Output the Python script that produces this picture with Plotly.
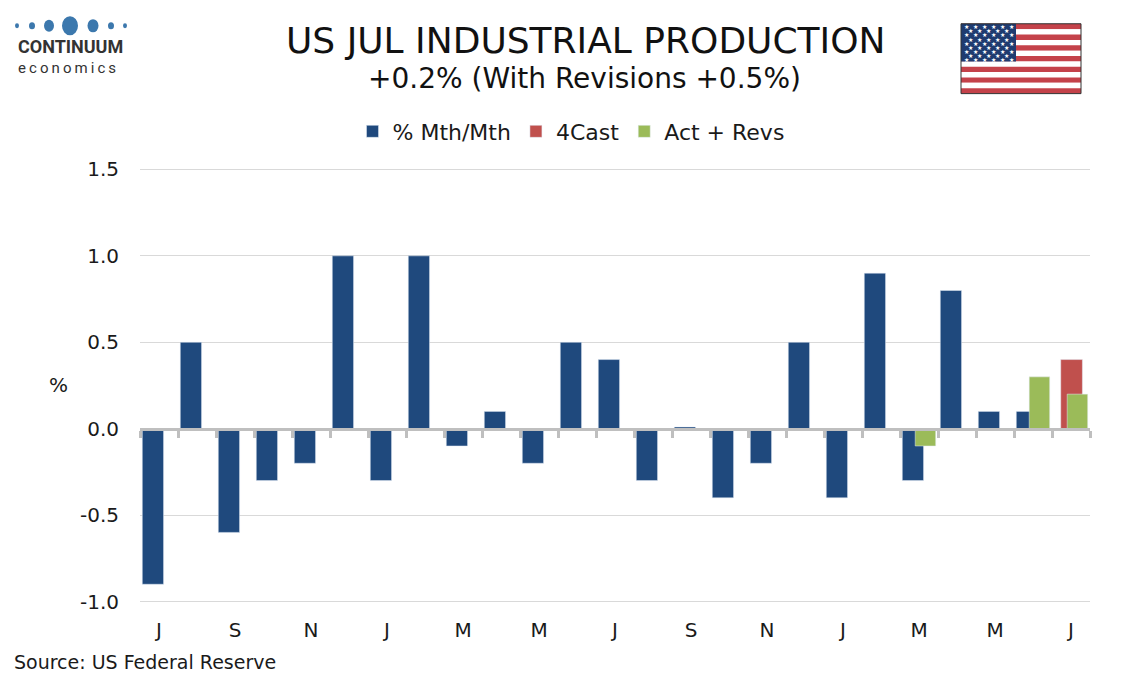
import plotly.graph_objects as go

# monthly % change, Jul 2023 .. Jul 2025
months = ["Jul 23", "Aug 23", "Sep 23", "Oct 23", "Nov 23", "Dec 23",
          "Jan 24", "Feb 24", "Mar 24", "Apr 24", "May 24", "Jun 24",
          "Jul 24", "Aug 24", "Sep 24", "Oct 24", "Nov 24", "Dec 24",
          "Jan 25", "Feb 25", "Mar 25", "Apr 25", "May 25", "Jun 25", "Jul 25"]
mth_mth = [-0.9, 0.5, -0.6, -0.3, -0.2, 1.0, -0.3, 1.0, -0.1, 0.1, -0.2, 0.5,
           0.4, -0.3, 0.01, -0.4, -0.2, 0.5, -0.4, 0.9, -0.3, 0.8, 0.1, 0.1, None]
forecast = [None] * 24 + [0.4]
act_revs = [None] * 20 + [-0.1, None, None, 0.3, 0.2]

x_labels = ["J", "S", "N", "J", "M", "M", "J", "S", "N", "J", "M", "M", "J"]
y_ticks = [-1.0, -0.5, 0.0, 0.5, 1.0, 1.5]
y_text = ["-1.0", "-0.5", "0.0", "0.5", "1.0", "1.5"]

W, H = 1134, 680
OFF = 8  # page body margin
PAD = 0.02  # small y padding so the edge gridlines show
unit = (602 - 169) / 2.5
L, R = 140 - OFF, 44 + OFF
T = 169 - PAD * unit - OFF
B = H - (602 + PAD * unit) + OFF
FONT = "Verdana, DejaVu Sans, sans-serif"
BLUE, RED, GREEN = "#1F497D", "#C0504D", "#9BBB59"

def px(x):
    return (x - OFF - L) / (W - L - R)

def py(y):
    return (H - B - (y - OFF)) / (H - T - B)

idx = list(range(len(months)))
yr = [-1.0 - PAD, 1.5 + PAD]
rng = [-0.5, len(months) - 0.5]

fig = go.Figure()
fig.add_trace(go.Bar(x=idx, y=mth_mth, name="% Mth/Mth", marker_color=BLUE,
                     offset=-0.44, width=0.56, hovertext=months))
fig.add_trace(go.Bar(x=idx, y=forecast, name="4Cast", marker_color=RED,
                     offset=-0.27, width=0.57, hovertext=months))
fig.add_trace(go.Bar(x=idx, y=act_revs, name="Act + Revs", marker_color=GREEN,
                     offset=-0.1, width=0.54, hovertext=months))
# empty trace so the zero-line axis gets drawn
fig.add_trace(go.Scatter(x=idx, y=[None] * len(idx), xaxis="x2", showlegend=False,
                         hoverinfo="skip"))

fig.update_layout(
    width=W, height=H,
    margin=dict(l=L, r=R, t=T, b=B),
    plot_bgcolor="white", paper_bgcolor="white",
    barmode="overlay",
    font=dict(family=FONT, size=20, color="#1a1a1a"),
    legend=dict(orientation="h", x=px(571), xanchor="center", y=py(131), yanchor="middle",
                font=dict(size=22), traceorder="normal"),
    xaxis=dict(range=rng, tickvals=idx[::2], ticktext=x_labels, showgrid=False,
               zeroline=False, showline=False, ticks="", ticklabelstandoff=11),
    xaxis2=dict(range=rng, overlaying="x", anchor="free", position=-yr[0] / (yr[1] - yr[0]),
                side="bottom", tickvals=[i - 0.5 for i in idx] + [rng[1]], ticks="outside",
                ticklen=7, tickwidth=3, tickcolor="#BFBFBF", showline=True, linewidth=3,
                linecolor="#BFBFBF", showticklabels=False, showgrid=False, zeroline=False),
    yaxis=dict(range=yr, tickvals=y_ticks, ticktext=y_text, showgrid=True,
               gridcolor="#D9D9D9", gridwidth=1, zeroline=False, ticklabelstandoff=20),
    showlegend=True,
)

ann = [
    dict(text="US JUL INDUSTRIAL PRODUCTION", x=px(585), y=py(40), font=dict(size=36, color="#111")),
    dict(text="+0.2% (With Revisions +0.5%)", x=px(584), y=py(78), font=dict(size=28, color="#111")),
    dict(text="%", x=px(58), y=py(385), font=dict(size=20)),
    dict(text="Source: US Federal Reserve", x=px(12), y=py(663), xanchor="left", font=dict(size=19)),
    dict(text="<b>CONTINUUM</b>", x=px(16), y=py(46), xanchor="left",
         font=dict(family="Roboto", size=18, color="#333333")),
    dict(text="\u2009".join("economics"), x=px(16), y=py(67), xanchor="left",
         font=dict(family="Roboto", size=15, color="#333333")),
]
for a in ann:
    a.setdefault("xanchor", "center")
    fig.add_annotation(xref="paper", yref="paper", yanchor="middle", showarrow=False, **a)

# logo dots
for cx, d in zip([17, 32, 49, 70, 93, 111, 125], [4, 6, 10, 16, 11, 6, 4]):
    fig.add_shape(type="circle", xref="paper", yref="paper", line_width=0,
                  fillcolor="#3C78AD", x0=px(cx - d / 2), x1=px(cx + d / 2),
                  y0=py(25 + d * 0.6), y1=py(25 - d * 0.6))

# flag
fx0, fx1, fy0, fy1 = 961, 1081, 23, 93
sh = (fy1 - fy0) / 13
for i in range(13):
    fig.add_shape(type="rect", xref="paper", yref="paper", line_width=0,
                  fillcolor="#C4424A" if i % 2 == 0 else "white",
                  x0=px(fx0), x1=px(fx1), y0=py(fy0 + i * sh), y1=py(fy0 + (i + 1) * sh))
fig.add_shape(type="rect", xref="paper", yref="paper", line_width=0, fillcolor="#1F3B70",
              x0=px(fx0), x1=px(1016), y0=py(fy0), y1=py(fy0 + 7 * sh))
fig.add_shape(type="rect", xref="paper", yref="paper", line=dict(color="#333", width=1),
              x0=px(fx0), x1=px(fx1), y0=py(fy0), y1=py(fy1))
for r in range(9):
    n = 6 if r % 2 == 0 else 5
    for c in range(n):
        sx = fx0 + 5 + c * 9 + (0 if r % 2 == 0 else 4.5)
        sy = fy0 + 3 + r * 4.1
        fig.add_annotation(xref="paper", yref="paper", x=px(sx), y=py(sy), text="\u2605",
                           showarrow=False, font=dict(size=6, color="white"),
                           xanchor="center", yanchor="middle")

fig.write_html("out.html")
